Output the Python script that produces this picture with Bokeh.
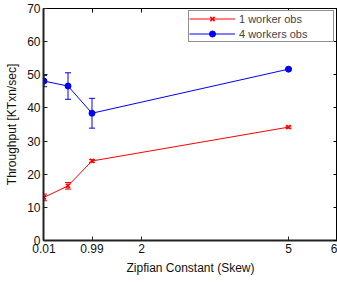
from bokeh.plotting import figure
from bokeh.models import (LinearAxis, FixedTicker, Whisker, TeeHead, ColumnDataSource,
                          Legend, LegendItem, Range1d)
from bokeh.embed import file_html
from bokeh.resources import INLINE

# Data
skew = [0.01, 0.5, 0.99, 5]
w1_obs = [13.0, 16.5, 24.0, 34.2]
w1_err = [1.0, 1.0, 0.4, 0.3]
w4_obs = [48.1, 46.6, 38.4, 51.7]
w4_err = [1.7, 4.0, 4.5, 0.3]
x_ticks = [0.01, 0.99, 2, 5, 6]
y_ticks = [0, 10, 20, 30, 40, 50, 60, 70]

FONT = "Liberation Sans"

p = figure(width=337, height=282, x_range=Range1d(0, 6), y_range=Range1d(0, 70),
           output_backend="svg", toolbar_location=None,
           min_border_left=43, min_border_right=0, min_border_top=8, min_border_bottom=42,
           x_axis_label="Zipfian Constant (Skew)", y_axis_label="Throughput [KTxn/sec]")
p.xgrid.visible = False
p.ygrid.visible = False
p.outline_line_color = "black"
p.outline_line_width = 1
p.background_fill_color = "white"
p.border_fill_color = "white"

for ax in (p.xaxis[0], p.yaxis[0]):
    ax.major_tick_in = 4
    ax.major_tick_out = 0
    ax.minor_tick_in = 0
    ax.minor_tick_out = 0
    ax.axis_line_width = 2
    ax.axis_line_color = "#222222"
    ax.major_tick_line_color = "#222222"
    ax.major_label_text_font = FONT
    ax.major_label_text_font_size = "12px"
    ax.major_label_text_color = "#111111"
    ax.axis_label_text_font = FONT
    ax.axis_label_text_font_size = "12px"
    ax.axis_label_text_font_style = "normal"
    ax.axis_label_text_color = "#111111"
    ax.major_label_standoff = 3
    ax.axis_label_standoff = 5

p.xaxis[0].ticker = FixedTicker(ticks=x_ticks)
p.xaxis[0].major_label_overrides = {0.01: "0.01", 0.99: "0.99", 2: "2", 5: "5", 6: "6"}
p.yaxis[0].ticker = FixedTicker(ticks=y_ticks)

# mirrored ticks on top and right
top = LinearAxis(ticker=FixedTicker(ticks=x_ticks), major_tick_in=4, major_tick_out=0,
                 minor_tick_in=0, minor_tick_out=0, axis_line_color=None,
                 major_label_text_font_size="0px", major_label_standoff=0,
                 major_label_overrides={t: "" for t in x_ticks})
right = LinearAxis(ticker=FixedTicker(ticks=y_ticks), major_tick_in=4, major_tick_out=0,
                   minor_tick_in=0, minor_tick_out=0, axis_line_color=None,
                   major_label_text_font_size="0px", major_label_standoff=0,
                   major_label_overrides={t: "" for t in y_ticks})
p.add_layout(top, "above")
p.add_layout(right, "right")

src1 = ColumnDataSource(dict(x=skew, y=w1_obs,
                             lo=[v - e for v, e in zip(w1_obs, w1_err)],
                             hi=[v + e for v, e in zip(w1_obs, w1_err)]))
src4 = ColumnDataSource(dict(x=skew, y=w4_obs,
                             lo=[v - e for v, e in zip(w4_obs, w4_err)],
                             hi=[v + e for v, e in zip(w4_obs, w4_err)]))

for src, col in ((src1, "red"), (src4, "blue")):
    p.add_layout(Whisker(source=src, base="x", lower="lo", upper="hi",
                         line_color=col, line_width=1,
                         upper_head=TeeHead(size=6, line_color=col, line_width=1),
                         lower_head=TeeHead(size=6, line_color=col, line_width=1)))

l1 = p.line("x", "y", source=src1, line_color="red", line_width=1)
s1 = p.scatter("x", "y", source=src1, marker="x", size=6, line_color="red", line_width=1.5)
l4 = p.line("x", "y", source=src4, line_color="blue", line_width=1)
s4 = p.scatter("x", "y", source=src4, marker="circle", size=6, fill_color="blue", line_color="blue")

legend = Legend(items=[LegendItem(label="1 worker obs", renderers=[l1, s1]),
                       LegendItem(label="4 workers obs", renderers=[l4, s4])],
                location=(145, 198), margin=0, padding=0, spacing=0,
                glyph_width=46, glyph_height=15, label_height=15, label_width=94,
                label_text_font=FONT, label_text_font_size="11px",
                label_standoff=4, border_line_color="#222222", border_line_width=1,
                background_fill_alpha=1)
p.add_layout(legend, "center")

open("out.html", "w").write(file_html(p, INLINE))
